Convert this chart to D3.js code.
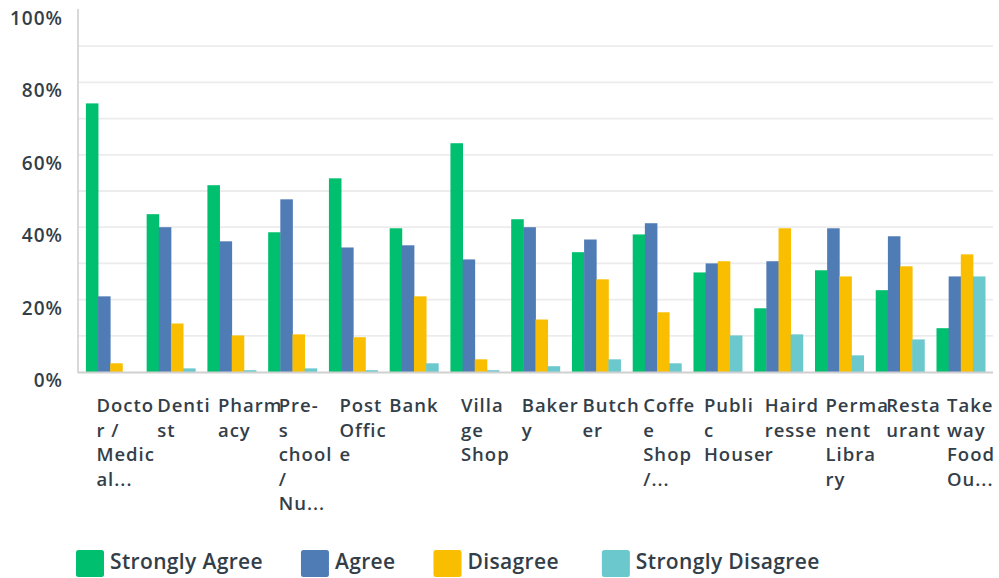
<!DOCTYPE html>
<html>
<head>
<meta charset="utf-8">
<script src="https://cdn.jsdelivr.net/npm/d3@7"></script>
<style>
  body { margin: 0; background: #fff; }
  svg text { font-family: "Open Sans", sans-serif; font-weight: 600; fill: #333e48; }
</style>
</head>
<body>
<svg id="chart" width="999" height="578" viewBox="0 0 999 578"></svg>
<script>
// categories, as wrapped on the axis
const categories = ["Doctor / Medical", "Dentist", "Pharmacy", "Pre-school / Nursery", "Post Office", "Bank",
  "Village Shop", "Bakery", "Butcher", "Coffee Shop / Cafe", "Public House", "Hairdresser",
  "Permanent Library", "Restaurant", "Takeaway Food Outlet"]
const tickLines = [
  ["Docto", "r /", "Medic", "al..."],
  ["Denti", "st"],
  ["Pharm", "acy"],
  ["Pre-", "s", "chool", "/", "Nu..."],
  ["Post", "Offic", "e"],
  ["Bank"],
  ["Villa", "ge", "Shop"],
  ["Baker", "y"],
  ["Butch", "er"],
  ["Coffe", "e", "Shop", "/..."],
  ["Publi", "c", "House"],
  ["Haird", "resse", "r"],
  ["Perma", "nent", "Libra", "ry"],
  ["Resta", "urant"],
  ["Take", "way", "Food", "Ou..."]
]
const seriesNames = ["Strongly Agree", "Agree", "Disagree", "Strongly Disagree"]
const stronglyAgree    = [74.2, 43.6, 51.6, 38.6, 53.5, 39.7, 63.2, 42.2, 33.1, 38.0, 27.5, 17.6, 28.1, 22.6, 12.1]
const agree            = [20.9, 40.0, 36.1, 47.7, 34.4, 35.0, 31.1, 40.0, 36.6, 41.1, 30.0, 30.6, 39.7, 37.5, 26.4]
const disagree         = [2.4, 13.4, 10.1, 10.4, 9.6, 20.9, 3.5, 14.5, 25.6, 16.5, 30.6, 39.7, 26.4, 29.2, 32.5]
const stronglyDisagree = [0, 1.0, 0.5, 1.0, 0.5, 2.4, 0.5, 1.6, 3.5, 2.4, 10.1, 10.4, 4.6, 9.0, 26.4]
const yTicks = [0, 20, 40, 60, 80, 100]
const colors = ["#00bf6f", "#507cb6", "#f9be00", "#6bc8cd"]

const series = [stronglyAgree, agree, disagree, stronglyDisagree]
const data = categories.map((c, i) => ({cat: c, i: i, values: series.map(s => s[i])}))

const svg = d3.select("#chart")
const plotLeft = 78, plotRight = 993, plotTop = 10, plotBottom = 372

const x0 = d3.scaleBand()
    .domain(categories)
    .range([plotLeft, plotRight])
    .paddingInner(0.2)
    .paddingOuter(0.13)
const x1 = d3.scaleBand()
    .domain(d3.range(4))
    .range([0, x0.bandwidth()])
const y = d3.scaleLinear()
    .domain([0, 100])
    .range([plotBottom, plotTop])

// gridlines every 10%
svg.append("g")
    .selectAll("line")
    .data(d3.range(10, 100, 10))
    .enter()
    .append("line")
    .attr("x1", plotLeft).attr("x2", plotRight)
    .attr("y1", d => y(d)).attr("y2", d => y(d))
    .style("stroke", "#ececec")
    .style("stroke-width", 1.8)

// y labels sit a bit under their line
svg.append("g")
    .selectAll("text")
    .data(yTicks)
    .enter()
    .append("text")
    .attr("x", 63)
    .attr("y", d => y(d) + 15)
    .attr("text-anchor", "end")
    .style("font-size", "19px")
    .style("letter-spacing", "1px")
    .text(d => d + "%")

// bars
const groups = svg.append("g")
    .selectAll("g")
    .data(data)
    .enter()
    .append("g")
    .attr("transform", d => `translate(${x0(d.cat)},0)`)

groups.selectAll("rect")
    .data(d => d.values)
    .enter()
    .append("rect")
    .attr("x", (d, j) => x1(j))
    .attr("width", x1.bandwidth() + 0.4)
    .attr("y", d => y(d))
    .attr("height", d => plotBottom - y(d))
    .attr("fill", (d, j) => colors[j])

// axes lines
svg.append("line")
    .attr("x1", plotLeft).attr("x2", plotLeft)
    .attr("y1", plotTop - 1).attr("y2", plotBottom + 1)
    .style("stroke", "#cccccc").style("stroke-width", 1.5)
svg.append("line")
    .attr("x1", plotLeft).attr("x2", plotRight)
    .attr("y1", plotBottom + 0.5).attr("y2", plotBottom + 0.5)
    .style("stroke", "#d0d0d0").style("stroke-width", 2)

// x tick labels
const tick = svg.append("g")
    .selectAll("text")
    .data(data)
    .enter()
    .append("text")
    .style("font-size", "18.5px")
    .style("letter-spacing", "1px")
    .attr("text-anchor", d => tickLines[d.i].length > 1 ? "start" : "middle")
    .attr("x", d => tickLines[d.i].length > 1 ? x0(d.cat) + 10.5 : x0(d.cat) + x0.bandwidth() / 2)
    .attr("y", 412)

tick.selectAll("tspan")
    .data(d => tickLines[d.i].map(t => ({t: t, d: d})))
    .enter()
    .append("tspan")
    .attr("x", function (o) { return d3.select(this.parentNode).attr("x") })
    .attr("dy", (o, k) => k === 0 ? 0 : 24.6)
    .text(o => o.t)

// legend
const legend = svg.append("g")
let lx = 76
const gaps = [38, 38, 43]
seriesNames.forEach((name, j) => {
    legend.append("rect")
        .attr("x", lx).attr("y", 550)
        .attr("width", 28).attr("height", 27)
        .attr("rx", 2.5)
        .attr("fill", colors[j])
    const t = legend.append("text")
        .attr("x", lx + 34).attr("y", 569)
        .style("font-size", "21px")
        .style("letter-spacing", "0.35px")
        .text(name)
    lx = lx + 34 + t.node().getComputedTextLength() + (gaps[j] || 0)
})
</script>
</body>
</html>
